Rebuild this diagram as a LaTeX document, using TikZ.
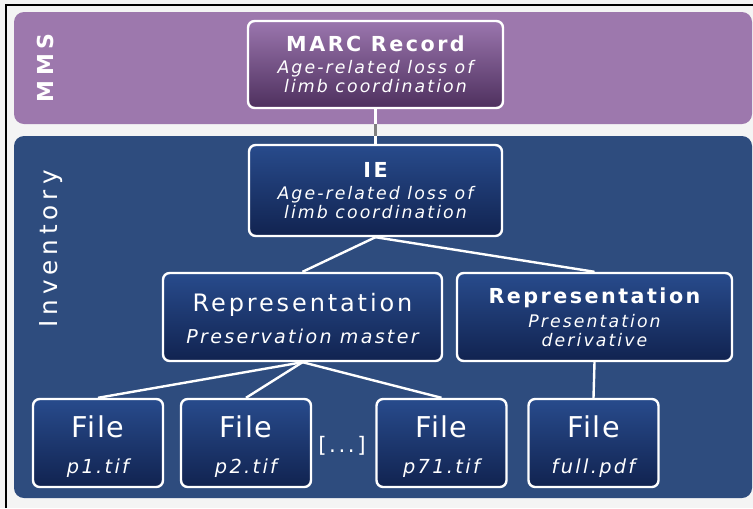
\documentclass[tikz,border=0pt]{standalone}
\usepackage{fontspec}
\usepackage{tikz}

\setmainfont{DejaVu Sans}
\newfontfamily\boxfont{DejaVu Sans}[LetterSpace=12]
\newfontfamily\filefont{DejaVu Sans}[LetterSpace=5]
\newfontfamily\bandfont{DejaVu Sans}[LetterSpace=20]

\definecolor{pagebg}{RGB}{244,244,244}
\definecolor{mmsband}{RGB}{157,120,173}
\definecolor{invband}{RGB}{46,76,126}
\definecolor{boxtop}{RGB}{40,75,140}
\definecolor{boxbot}{RGB}{17,35,80}
\definecolor{marctop}{RGB}{155,118,174}
\definecolor{marcbot}{RGB}{78,48,94}

% bold title line inside a box
\newcommand{\boxtitle}[1]{{\upshape\bfseries\fontsize{15.5}{14.25}\selectfont #1}}
% two line text of a file box
\newcommand{\filetext}[1]{{\filefont\upshape\fontsize{21.5}{14.25}\selectfont\rule{0pt}{22.5pt}File}\\[12.75pt]{\fontsize{14.5}{14.25}\selectfont #1}}

\begin{document}
\begin{tikzpicture}[x=0.75pt, y=-0.75pt,
    band/.style={rounded corners=7.5pt},
    box/.style={draw=white, line width=1.8pt, rounded corners=5pt,
        top color=boxtop, bottom color=boxbot, text=white, align=center,
        inner sep=0pt, font=\boxfont\itshape\fontsize{13}{14.25}\selectfont},
    filebox/.style={box, minimum width=97.5pt, minimum height=66pt},
    link/.style={white, line width=1.8pt}]

    % Page and frame
    \useasboundingbox (0,0) rectangle (753,508);
    \fill[pagebg] (0,0) rectangle (753,508);
    \draw[line width=1.5pt] (5.5,508) -- (5.5,4.5) -- (753,4.5);

    % Draw the two bands
    \fill[mmsband, band] (14,12) rectangle (752,124);
    \fill[invband, band] (14,136) rectangle (752,498);

    % Label the bands
    \node[rotate=90, text=white, font=\bandfont\bfseries\fontsize{16.5}{18}\selectfont] (mms) at (45,68) {MMS};
    \node[rotate=90, text=white, font=\bandfont\fontsize{18.5}{20}\selectfont] (inv) at (51,249) {Inventory};

    % Catalogue record and intellectual entity
    \node[box, top color=marctop, bottom color=marcbot, minimum width=191.25pt, minimum height=65.25pt] (MARC) at (375.5,64.5)
        {\boxtitle{MARC Record}\\[2.2pt]Age-related loss of\\limb coordination};
    \node[box, minimum width=189.75pt, minimum height=68.25pt] (IE) at (375.5,190.5)
        {\boxtitle{IE}\\[2.2pt]Age-related loss of\\limb coordination};

    % Representations
    \node[box, minimum width=209.25pt, minimum height=66pt] (R1) at (302.5,317)
        {{\upshape\fontsize{18}{14.25}\selectfont\rule{0pt}{16pt}Representation}\\[8.25pt]{\fontsize{14.3}{14.25}\selectfont Preservation master}};
    \node[box, minimum width=206.25pt, minimum height=66pt] (R2) at (594.5,317)
        {\boxtitle{Representation}\\[3.75pt]Presentation\\derivative};

    % Files
    \node[filebox] (F1) at (98,443) {\filetext{p1.tif}};
    \node[filebox] (F2) at (246,443) {\filetext{p2.tif}};
    \node[filebox] (F3) at (441.5,443) {\filetext{p71.tif}};
    \node[filebox] (F4) at (593.5,443) {\filetext{full.pdf}};
    \node[text=white, font=\boxfont\fontsize{16}{16}\selectfont] (dots) at (342,446) {[...]};

    % Draw the connectors
    \coordinate (mmsfoot) at (MARC.south |- 0,124);
    \coordinate (invtop) at (MARC.south |- 0,136);
    \draw[link] (MARC.south) -- (IE.north);
    \draw[gray, line width=1.8pt] (mmsfoot) -- (invtop);
    \draw[link] (IE.south) -- (R1.north);
    \draw[link] (IE.south) -- (R2.north);
    \draw[link] (R1.south) -- (F1.north);
    \draw[link] (R1.south) -- (F2.north);
    \draw[link] (R1.south) -- (F3.north);
    \draw[link] (R2.south) -- (F4.north);

\end{tikzpicture}
\end{document}
